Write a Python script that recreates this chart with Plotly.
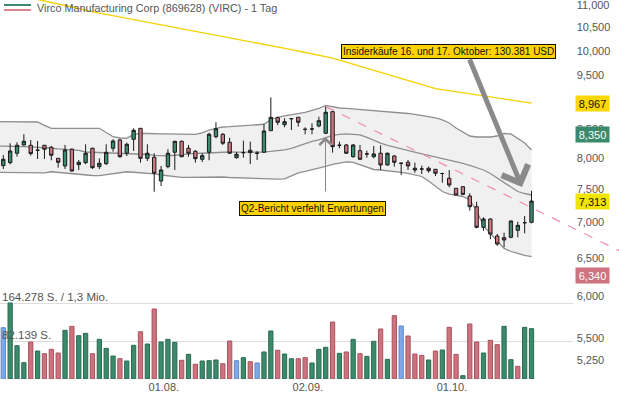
import plotly.graph_objects as go
import math

# ---------------- data ----------------
days = list(range(78))
opens = [7.873, 7.922, 8.079, 8.219, 8.214, 8.129, 8.214, 8.180, 7.994, 7.868,
         8.146, 7.889, 7.922, 8.163, 7.856, 7.905, 8.163, 8.305, 8.079, 8.317,
         8.509, 7.994, 8.011, 7.625, 7.856, 8.095, 8.283, 8.163, 8.112, 7.978,
         8.095, 8.362, 8.404, 8.266, 8.005, 8.089, 8.129, 8.079, 8.095, 8.467,
         8.700, 8.574, 8.682, 8.707, 8.491, 8.497, 8.550, 8.421, 8.809, 8.214,
         8.219, 8.021, 8.122, 8.067, 8.021, 8.079, 7.884, 8.033, 7.912, 7.928,
         7.830, 7.818, 7.830, 7.813, 7.745, 7.668, 7.510, 7.535, 7.390, 7.228,
         6.924, 7.045, 6.800, 6.776, 6.782, 6.881, 6.991, 6.997]
highs = [8.050, 8.249, 8.266, 8.404, 8.305, 8.288, 8.219, 8.202, 7.994, 8.219,
         8.163, 7.966, 8.231, 8.173, 7.994, 8.231, 8.317, 8.328, 8.259, 8.509,
         8.512, 8.231, 8.079, 7.868, 8.146, 8.288, 8.293, 8.219, 8.134, 8.079,
         8.432, 8.617, 8.427, 8.345, 8.100, 8.293, 8.276, 8.117, 8.581, 9.076,
         8.718, 8.689, 8.689, 8.710, 8.527, 8.599, 8.718, 8.902, 8.812, 8.276,
         8.236, 8.236, 8.219, 8.122, 8.202, 8.214, 8.089, 8.045, 7.922, 7.966,
         7.922, 7.873, 7.856, 7.816, 7.758, 7.802, 7.513, 7.545, 7.432, 7.303,
         7.070, 7.055, 6.828, 6.847, 7.020, 7.005, 7.089, 7.472]
lows = [7.818, 7.895, 8.021, 8.207, 8.038, 7.983, 7.983, 7.961, 7.840, 7.818,
        7.775, 7.802, 7.895, 7.818, 7.818, 7.884, 8.105, 8.005, 8.033, 8.117,
        7.922, 7.950, 7.457, 7.546, 7.830, 7.802, 8.011, 8.021, 7.922, 7.933,
        7.961, 8.334, 8.219, 8.067, 7.988, 8.005, 7.900, 7.966, 8.089, 8.464,
        8.568, 8.527, 8.479, 8.538, 8.404, 8.404, 8.527, 8.409, 8.089, 8.163,
        8.067, 8.005, 7.966, 8.005, 7.994, 7.802, 7.873, 7.856, 7.721, 7.802,
        7.758, 7.737, 7.758, 7.705, 7.598, 7.526, 7.403, 7.405, 7.168, 6.910,
        6.875, 6.754, 6.661, 6.643, 6.768, 6.782, 6.838, 6.982]
closes = [7.978, 8.117, 8.214, 8.283, 8.072, 8.129, 8.146, 8.045, 7.928, 8.134,
          7.786, 7.928, 8.079, 7.840, 7.912, 8.095, 8.288, 8.021, 8.231, 8.474,
          7.994, 8.079, 7.749, 7.802, 8.079, 8.283, 8.021, 8.079, 7.988, 8.038,
          8.404, 8.502, 8.249, 8.079, 8.062, 8.089, 8.089, 8.079, 8.462, 8.707,
          8.617, 8.627, 8.682, 8.617, 8.491, 8.497, 8.645, 8.798, 8.190, 8.214,
          8.079, 8.219, 7.978, 8.067, 8.067, 7.884, 8.079, 7.928, 7.912, 7.868,
          7.802, 7.818, 7.791, 7.749, 7.745, 7.562, 7.406, 7.416, 7.228, 6.924,
          7.045, 6.828, 6.688, 6.744, 7.016, 6.953, 6.991, 7.313]

band_days = list(range(-1, 78))
bb_upper = [8.628, 8.628, 8.628, 8.628, 8.628, 8.628, 8.622, 8.560, 8.509, 8.509,
            8.509, 8.509, 8.509, 8.509, 8.509, 8.509, 8.435, 8.362, 8.339, 8.334,
            8.401, 8.418, 8.418, 8.410, 8.410, 8.410, 8.410, 8.410, 8.404, 8.404,
            8.427, 8.479, 8.506, 8.532, 8.538, 8.547, 8.554, 8.563, 8.568, 8.581,
            8.667, 8.707, 8.731, 8.753, 8.767, 8.795, 8.831, 8.868, 8.924, 8.896,
            8.877, 8.868, 8.858, 8.849, 8.840, 8.831, 8.822, 8.813, 8.804, 8.795,
            8.776, 8.758, 8.740, 8.713, 8.695, 8.658, 8.604, 8.515, 8.444, 8.374,
            8.357, 8.357, 8.357, 8.374, 8.418, 8.410, 8.339, 8.254, 8.134]
bb_mid = [8.202, 8.202, 8.197, 8.194, 8.190, 8.185, 8.180, 8.173, 8.163, 8.151,
          8.143, 8.134, 8.126, 8.100, 8.095, 8.089, 8.084, 8.079, 8.075, 8.072,
          8.068, 8.067, 8.058, 8.042, 8.033, 8.036, 8.045, 8.058, 8.067, 8.075,
          8.079, 8.084, 8.092, 8.100, 8.100, 8.097, 8.095, 8.095, 8.095, 8.100,
          8.109, 8.117, 8.134, 8.160, 8.202, 8.245, 8.279, 8.305, 8.349, 8.384,
          8.401, 8.410, 8.401, 8.392, 8.349, 8.296, 8.249, 8.211, 8.180, 8.155,
          8.131, 8.092, 8.067, 8.042, 8.016, 7.994, 7.966, 7.933, 7.909, 7.876,
          7.843, 7.802, 7.746, 7.673, 7.594, 7.530, 7.460, 7.429, 7.406]
bb_lower = [7.765, 7.762, 7.758, 7.755, 7.754, 7.750, 7.749, 7.754, 7.773, 7.762,
            7.749, 7.738, 7.731, 7.721, 7.713, 7.712, 7.725, 7.746, 7.762, 7.773,
            7.765, 7.757, 7.750, 7.738, 7.721, 7.705, 7.692, 7.684, 7.684, 7.684,
            7.684, 7.689, 7.694, 7.689, 7.681, 7.676, 7.673, 7.670, 7.665, 7.660,
            7.657, 7.654, 7.660, 7.705, 7.754, 7.778, 7.802, 7.827, 7.860, 7.892,
            7.917, 7.933, 7.925, 7.884, 7.843, 7.810, 7.802, 7.791, 7.781, 7.765,
            7.746, 7.725, 7.697, 7.625, 7.546, 7.460, 7.421, 7.398, 7.383, 7.329,
            7.163, 6.943, 6.828, 6.730, 6.626, 6.584, 6.557, 6.530, 6.514]
ma200 = [11.342, 11.304, 11.269, 11.234, 11.199, 11.164, 11.127, 11.092, 11.057, 11.023,
         10.986, 10.952, 10.918, 10.884, 10.850, 10.816, 10.787, 10.758, 10.731, 10.702,
         10.673, 10.646, 10.617, 10.591, 10.562, 10.534, 10.505, 10.479, 10.451, 10.425,
         10.397, 10.366, 10.338, 10.310, 10.282, 10.253, 10.225, 10.197, 10.170, 10.140,
         10.110, 10.083, 10.054, 10.025, 9.995, 9.968, 9.939, 9.908, 9.877, 9.847,
         9.806, 9.765, 9.724, 9.684, 9.644, 9.604, 9.564, 9.522, 9.483, 9.439,
         9.398, 9.357, 9.316, 9.276, 9.241, 9.222, 9.202, 9.183, 9.164, 9.145,
         9.124, 9.105, 9.084, 9.066, 9.045, 9.024, 9.002, 8.981, 8.967]
trend_days = [47, 90]
trend_vals = [8.902, 6.586]

volumes = [110900, 164278, 72000, 35300, 80000, 60500, 54700, 64100, 56200, 105200,
           113800, 93600, 98700, 54700, 85700, 66300, 49700, 43900, 38900, 72800,
           102200, 75600, 151300, 80000, 85700, 79300, 40400, 53300, 31800, 38900,
           39600, 41100, 33100, 82100, 39600, 46100, 37400, 34600, 58400, 103800,
           62000, 54000, 43900, 43900, 46100, 34600, 64100, 68500, 123200, 55500,
           58400, 85700, 54700, 49000, 81400, 108100, 42500, 136900, 114600, 92900,
           54000, 51100, 41100, 60500, 62700, 111600, 53300, 7200, 118900, 80000,
           56200, 83600, 74200, 113800, 41800, 27400, 111600, 108800]
vol_dir = list("bgggrgrrrg" "rggrgggrgg" "rgrgggrgrg" "ggrrbgrbgg" "rggrrgggrg"
               "rgrggrgrbr" "rrgrgrrgrr" "grrggrgg")

xtick_pos = [23.4, 44.4, 65.4]
xtick_text = ["01.08.", "02.09.", "01.10."]
ytick_vals = [11.0, 10.5, 10.0, 9.5, 8.5, 8.0, 7.5, 7.0, 6.5, 6.0, 5.5, 5.25]
vol_max = 164278
vol_half = 82139

# ---------------- styling ----------------
W, H = 619, 399
PLOT_H = 379
GREEN = "#3b8a6c"
RED = "#cf7a84"
vol_fill = {"g": "#3b8a6c", "r": "#cd737e", "b": "#7ea8e8"}
vol_edge = {"g": "#2b6b52", "r": "#a9525e", "b": "#5f88c8"}
TXT = "#555555"
FONT = "Liberation Sans, Arial, sans-serif"
PRICE_RANGE = [math.log10(5.049), math.log10(11.115)]


def px(x):
    return x / W


def py(y):
    return 1 - y / PLOT_H


fig = go.Figure()

fig.add_trace(go.Scatter(x=band_days, y=bb_lower, mode="lines",
                         line=dict(color="#8f8f8f", width=1.3), xaxis="x", yaxis="y",
                         hoverinfo="skip"))
fig.add_trace(go.Scatter(x=band_days, y=bb_upper, mode="lines", fill="tonexty",
                         fillcolor="#f0f0f0",
                         line=dict(color="#8f8f8f", width=1.3), xaxis="x", yaxis="y",
                         hoverinfo="skip"))
fig.add_trace(go.Scatter(x=band_days, y=bb_mid, mode="lines",
                         line=dict(color="#8f8f8f", width=1.3), xaxis="x", yaxis="y",
                         hoverinfo="skip"))
fig.add_trace(go.Scatter(x=band_days, y=ma200, mode="lines",
                         line=dict(color="#f5d200", width=1.4), xaxis="x", yaxis="y",
                         hoverinfo="skip"))
fig.add_trace(go.Scatter(x=trend_days, y=trend_vals, mode="lines",
                         line=dict(color="#f08cb4", width=1.2, dash="dash"),
                         xaxis="x", yaxis="y", hoverinfo="skip"))
fig.add_trace(go.Candlestick(
    x=days, open=opens, high=highs, low=lows, close=closes,
    increasing=dict(fillcolor=GREEN, line=dict(color="#1a1a1a", width=1)),
    decreasing=dict(fillcolor=RED, line=dict(color="#1a1a1a", width=1)),
    whiskerwidth=0, xaxis="x", yaxis="y3"))
fig.add_trace(go.Bar(
    x=days, y=volumes, width=0.62,
    marker=dict(color=[vol_fill[d] for d in vol_dir],
                line=dict(color=[vol_edge[d] for d in vol_dir], width=1)),
    xaxis="x2", yaxis="y2"))

X0 = -0.48
PXU = 6.86
fig.update_layout(
    width=W, height=H,
    margin=dict(l=0, r=0, t=0, b=20, pad=0, autoexpand=False),
    paper_bgcolor="white", plot_bgcolor="rgba(0,0,0,0)",
    showlegend=False, separators=",.",
    font=dict(family=FONT, size=11, color=TXT),
    xaxis=dict(domain=[0, 1], range=[X0, X0 + W / PXU], visible=False,
               rangeslider=dict(visible=False), anchor="y", automargin=False),
    xaxis2=dict(domain=[0, 573 / W], range=[X0, X0 + 573 / PXU], anchor="y2",
                tickvals=xtick_pos, ticktext=xtick_text, showgrid=False,
                zeroline=False, showline=False, ticks="", automargin=False,
                tickfont=dict(size=11, color=TXT)),
    yaxis=dict(type="log", domain=[0, 1], range=PRICE_RANGE,
               anchor="free", position=0.930, side="right",
               tickvals=ytick_vals, tickformat=".3f", showgrid=False,
               zeroline=False, showline=False, ticks="", automargin=False,
               ticklabeloverflow="allow",
               tickfont=dict(size=11, color=TXT)),
    yaxis3=dict(type="log", range=PRICE_RANGE, overlaying="y", anchor="x",
                visible=False, automargin=False),
    yaxis2=dict(domain=[0, 0.25], range=[0, vol_max * (0.25 * PLOT_H) / 76],
                anchor="x2", showticklabels=False, showgrid=True,
                gridcolor="#dddddd", gridwidth=1, tickvals=[vol_half, vol_max],
                zeroline=False, ticks="", automargin=False),
)

ann = []
ann.append(dict(xref="paper", yref="paper", x=px(35), y=py(8), xanchor="left",
                yanchor="middle", showarrow=False,
                text="Virco Manufacturing Corp (869628) (VIRC) - 1 Tag",
                font=dict(size=10.8, color=TXT)))
ann.append(dict(xref="paper", yref="paper", x=px(0), y=py(296.5), xanchor="left",
                yanchor="middle", showarrow=False,
                text="164.278 S. / 1,3 Mio.", font=dict(size=11.5, color=TXT)))
ann.append(dict(xref="paper", yref="paper", x=px(0), y=py(335), xanchor="left",
                yanchor="middle", showarrow=False,
                text="82.139 S.", font=dict(size=11.5, color=TXT)))
ann.append(dict(xref="paper", yref="paper", x=px(448), y=py(52), xanchor="center",
                yanchor="middle", showarrow=False,
                text="Insiderkäufe 16. und 17. Oktober: 130.381 USD",
                font=dict(size=10, color="#111"), bgcolor="#ffd200",
                bordercolor="#111", borderwidth=1, borderpad=1))
ann.append(dict(xref="paper", yref="paper", x=px(312.5), y=py(208.5), xanchor="center",
                yanchor="middle", showarrow=False,
                text="Q2-Bericht verfehlt Erwartungen",
                font=dict(size=10, color="#111"), bgcolor="#ffd200",
                bordercolor="#111", borderwidth=1, borderpad=1))
ann.append(dict(xref="paper", yref="paper", x=px(522), y=py(187), ax=-53, ay=-129,
                text="", showarrow=True, arrowhead=4, arrowsize=1.1, arrowwidth=5,
                arrowcolor="#8a8a8a"))
ann.append(dict(xref="paper", yref="paper", x=px(325.5), y=py(137), ax=0, ay=56,
                text="", showarrow=True, arrowhead=4, arrowsize=2.4, arrowwidth=1,
                arrowcolor="#8a8a8a"))


def value_label(val, bg, fg, shift=0):
    return dict(xref="paper", yref="y", x=px(575), y=math.log10(val), yshift=shift,
                xanchor="left", yanchor="middle", showarrow=False,
                text=f"{val:.3f}".replace(".", ","), font=dict(size=11, color=fg),
                bgcolor=bg, width=31, height=13, borderpad=1)


ann.append(value_label(ma200[-1], "#ffd700", "#111"))
ann.append(value_label(8.350, "#3b8a6c", "#ffffff", 3))
ann.append(value_label(closes[-1], "#f0e500", "#111"))
ann.append(value_label(6.340, "#cd737e", "#ffffff", -6))
fig.update_layout(annotations=ann)

fig.add_shape(type="line", xref="paper", yref="paper", x0=px(4), x1=px(31),
              y0=py(5), y1=py(5), line=dict(color="#3b8a6c", width=2))
fig.add_shape(type="line", xref="paper", yref="paper", x0=px(4), x1=px(31),
              y0=py(10), y1=py(10), line=dict(color="#d9868f", width=2))

fig.write_html("out.html", config={"displayModeBar": False},
               post_script="document.body.style.margin='0';document.body.style.overflow='hidden';")
